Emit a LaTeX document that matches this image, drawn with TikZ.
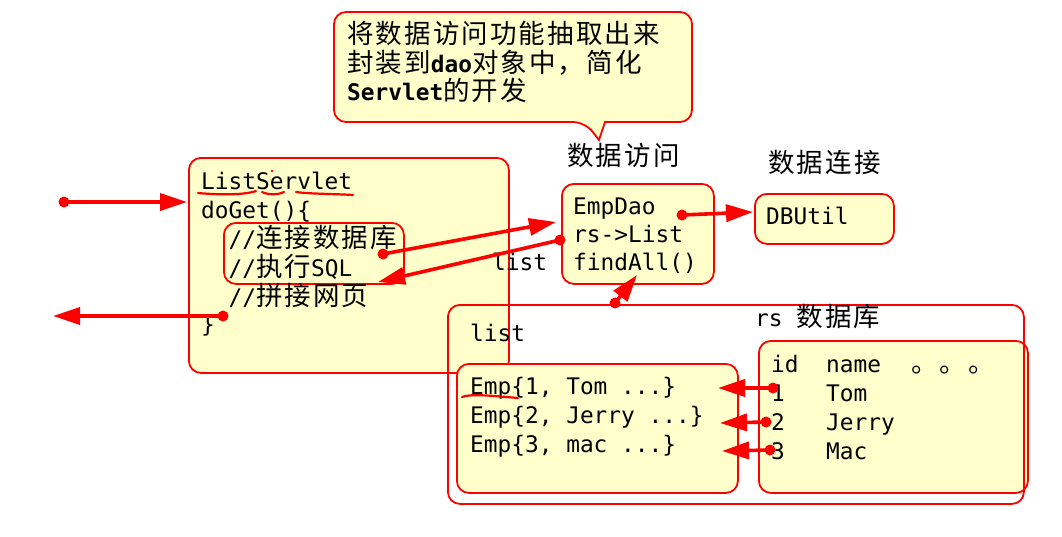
\documentclass[tikz,border=0pt]{standalone}
\usepackage{fontspec}
\setmonofont{DejaVu Sans Mono}
\newfontfamily\cjkfam{Noto Sans CJK SC}[LetterSpace=8]
\usetikzlibrary{arrows.meta}
\definecolor{boxfill}{HTML}{FFFFCC}
\newcommand\zh[1]{{\cjkfam\fontsize{26.5}{29}\selectfont #1}}
\newcommand\code{\ttfamily\fontsize{22.8}{29}\selectfont}
\newcommand\bcode[1]{{\ttfamily\bfseries\fontsize{22.8}{29}\selectfont #1}}
\tikzset{
  box/.style={draw=red, line width=1.8pt, fill=boxfill, rounded corners=12pt, inner sep=0pt, anchor=north west},
  openbox/.style={draw=red, line width=1.8pt, rounded corners=12pt, inner sep=0pt, anchor=north west},
  txt/.style={inner sep=0pt, anchor=base west, font=\code},
  arr/.style={draw=red, line width=3.6pt, -{Triangle[length=27pt,width=17pt]}},
  dotnode/.style={circle, fill=red, inner sep=0pt, minimum size=11pt},
  scribble/.style={draw=red, line width=2.2pt, line cap=round},
}
\begin{document}
\begin{tikzpicture}[x=1pt,y=-1pt]
\useasboundingbox (0,0) rectangle (1062,536);
\fill[white] (0,0) rectangle (1062,536);

% callout
\draw[red, line width=1.8pt, fill=boxfill] (585,122) -- (599,140) -- (605,122)
  [rounded corners=12pt] -- (692,122) -- (692,12) -- (334,12) -- (334,122) -- cycle;
\node[txt] (n1) at (347,43) {\zh{将数据访问功能抽取出来}};
\node[txt] (n2) at (347,72) {\zh{封装到}\bcode{dao}\zh{对象中，简化}};
\node[txt] (n3) at (347,100) {\bcode{Servlet}\zh{的开发}};

% labels
\node[txt] (lblda) at (567,165) {\zh{数据访问}};
\node[txt] (lbldc) at (768,172) {\zh{数据连接}};

% ListServlet box
\node[box, minimum width=320pt, minimum height=215pt] (ls) at (188,157) {};
\node[openbox, minimum width=180pt, minimum height=61pt] (inner) at (223,222) {};
\node[txt] (s1) at (201,189) {ListServlet};
\node[txt] (s2) at (201,218) {doGet()\{};
\node[txt] (s3) at (201,247) {~~//\zh{连接数据库}};
\node[txt] (s4) at (201,276) {~~//\zh{执行}SQL};
\node[txt] (s5) at (201,305) {~~//\zh{拼接网页}};
\node[txt] (s6) at (201,332) {\}};
\draw[scribble] (198,193) .. controls (220,195) and (245,195) .. (256,191);
\draw[scribble] (262,192) .. controls (268,195) and (278,195) .. (284,192);
\draw[scribble] (296,192) .. controls (310,194) and (340,194) .. (353,195);
\fill[red] (272,171) circle (1.4pt);

% EmpDao box
\node[box, minimum width=152pt, minimum height=100pt] (dao) at (561,183) {};
\node[txt] (d1) at (573,214) {EmpDao};
\node[txt] (d2) at (573,242) {rs->List};
\node[txt] (d3) at (573,270) {findAll()};

% DBUtil box
\node[box, minimum width=139pt, minimum height=50pt] (db) at (754,193) {};
\node[txt] (u1) at (766,224) {DBUtil};

% Emp list box
\node[box, minimum width=281pt, minimum height=129pt] (emp) at (456,363) {};
\node[txt] (e1) at (470,394) {Emp\{1, Tom ...\}};
\node[txt] (e2) at (470,423) {Emp\{2, Jerry ...\}};
\node[txt] (e3) at (470,452) {Emp\{3, mac ...\}};
\draw[scribble] (462,397) .. controls (470,394) and (485,395) .. (518,398);

% table box
\node[box, minimum width=269pt, minimum height=152pt] (tbl) at (758,340) {};
\node[txt] (t0) at (771,372) {id~~name};
\node[txt] (tdots) at (911,372) {\zh{。。。}};
\node[txt] (t1) at (771,401) {1~~~Tom};
\node[txt] (t2) at (771,430) {2~~~Jerry};
\node[txt] (t3) at (771,459) {3~~~Mac};

% outer box
\node[openbox, minimum width=576pt, minimum height=199pt] (outer) at (447,304) {};
\node[txt] (lst) at (470,341) {list};
\node[txt] (rs) at (755,326) {rs \zh{数据库}};

\node[txt] (lst2) at (492,270) {list};

% connectors
\node[dotnode] (pa) at (64,202) {};
\coordinate (qa) at (187,202);
\draw[arr] (pa.center) -- (qa);

\node[dotnode] (pb) at (223,316) {};
\coordinate (qb) at (53,316);
\draw[arr] (pb.center) -- (qb);

\node[dotnode] (pc) at (383,254) {};
\coordinate (qc) at (556,222);
\draw[arr] (pc.center) -- (qc);

\node[dotnode] (pd) at (560,240) {};
\coordinate (qd) at (378,282);
\draw[arr] (pd.center) -- (qd);

\node[dotnode] (pe) at (682,215) {};
\coordinate (qe) at (753,212);
\draw[arr] (pe.center) -- (qe);

\node[dotnode] (pf) at (615,303) {};
\coordinate (qf) at (637,275);
\draw[arr] (pf.center) -- (qf);

\node[dotnode] (pg) at (773,388) {};
\coordinate (qg) at (718,388);
\draw[arr] (pg.center) -- (qg);

\node[dotnode] (ph) at (766,422) {};
\coordinate (qh) at (720,423);
\draw[arr] (ph.center) -- (qh);

\node[dotnode] (pi) at (770,450) {};
\coordinate (qi) at (722,451);
\draw[arr] (pi.center) -- (qi);
\end{tikzpicture}
\end{document}
